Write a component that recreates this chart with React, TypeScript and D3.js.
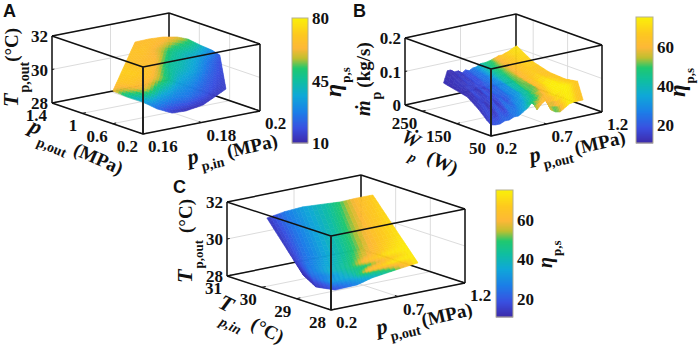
import React from "react";
import * as d3 from "d3";

// ---------- colour map ----------
const cmapStops = ["#3d2aa8", "#3a50e0", "#1c7fe8", "#10a8d8", "#10bfa0", "#20c870", "#c0bf30", "#fdb838", "#fdc820", "#fbf00a"];
const cmapAt = [0, 0.12, 0.25, 0.38, 0.5, 0.6, 0.68, 0.76, 0.87, 1];

// ---------- Panel A ----------
const aRowT = [0, 0.2, 0.4, 0.6, 0.8, 1];
const aTopPin = [0.1744, 0.1792, 0.184, 0.1887, 0.1903, 0.1904, 0.1904, 0.19];
const aTopPout = [0.86, 0.86, 0.86, 0.86, 0.776, 0.62, 0.464, 0.344];
const aTopT = [31.98, 32, 31.95, 31.79, 31.74, 31.62, 31.56, 31.46];
const aBotPin = [0.1668, 0.1686, 0.1709, 0.1726, 0.1746, 0.1778, 0.1821, 0.1893];
const aBotPout = [0.86, 0.74, 0.62, 0.5, 0.38, 0.32, 0.26, 0.236];
const aBotT = [29.32, 29.08, 28.88, 28.6, 28.47, 28.58, 28.88, 29.62];
const aEta = [
  [65, 66, 66, 62, 55, 42, 30, 20],
  [68, 68, 60, 48, 42, 36, 25, 18],
  [68, 66, 65, 46, 42, 35, 24, 17],
  [72, 72, 66, 52, 36, 30, 22, 16],
  [70, 68, 60, 38, 28, 25, 20, 15],
  [62, 45, 35, 24, 14, 12, 13, 15],
];

// ---------- Panel B ----------
const bRowW = [188, 153, 119, 85, 63, 50];
const bRowPoutEnd = [0.86, 0.9, 0.94, 0.98, 1.02, 1.03];
const bColFrac = [0, 0.05, 0.1, 0.15, 0.2, 0.25, 0.3, 0.35, 0.4, 0.45, 0.5, 0.55, 0.6, 0.65, 0.7, 0.75, 0.8, 0.85, 0.9, 0.95, 1];
const bMdot = [
  [0.107, 0.141, 0.141, 0.133, 0.134, 0.125, 0.132, 0.127, 0.133, 0.134, 0.141, 0.141, 0.142, 0.145, 0.149, 0.153, 0.153, 0.157, 0.161, 0.167, 0.171],
  [0.099, 0.118, 0.122, 0.112, 0.12, 0.108, 0.116, 0.11, 0.12, 0.118, 0.124, 0.124, 0.126, 0.128, 0.126, 0.13, 0.128, 0.132, 0.13, 0.134, 0.133],
  [0.091, 0.1, 0.09, 0.104, 0.094, 0.102, 0.09, 0.104, 0.096, 0.106, 0.1, 0.11, 0.102, 0.112, 0.106, 0.112, 0.108, 0.114, 0.11, 0.112, 0.112],
  [0.065, 0.082, 0.07, 0.086, 0.072, 0.088, 0.076, 0.09, 0.078, 0.094, 0.084, 0.092, 0.08, 0.098, 0.09, 0.1, 0.092, 0.104, 0.098, 0.102, 0.101],
  [0.043, 0.048, 0.058, 0.05, 0.064, 0.056, 0.072, 0.06, 0.078, 0.066, 0.084, 0.07, 0.088, 0.064, 0.072, 0.07, 0.08, 0.09, 0.094, 0.098, 0.1],
  [0.033, 0.03, 0.03, 0.036, 0.036, 0.042, 0.042, 0.051, 0.06, 0.075, 0.048, 0.063, 0.072, 0.039, 0.03, 0.027, 0.036, 0.045, 0.048, 0.048, 0.048],
];
const bEta = [
  [13, 12, 13, 14, 14, 16, 20, 22, 26, 32, 40, 44, 48, 50, 58, 64, 66, 68, 70, 72, 72],
  [12, 15, 13, 18, 14, 20, 18, 24, 26, 32, 42, 46, 50, 54, 58, 62, 64, 66, 68, 68, 68],
  [13, 13, 20, 12, 22, 14, 24, 22, 28, 30, 40, 44, 50, 54, 60, 64, 66, 68, 66, 64, 66],
  [13, 18, 12, 20, 13, 24, 18, 26, 28, 34, 40, 44, 50, 52, 62, 70, 74, 74, 72, 68, 66],
  [14, 18, 14, 22, 16, 26, 24, 30, 34, 40, 46, 50, 56, 60, 66, 72, 74, 75, 74, 68, 66],
  [16, 20, 22, 22, 24, 24, 28, 32, 40, 48, 56, 62, 66, 56, 48, 50, 66, 74, 72, 66, 64],
];

// ---------- Panel C ----------
const cRowT = [0, 0.3, 0.6, 0.72, 0.78, 0.84, 0.9, 0.95, 1];
const cTopPout = [0.2, 0.334, 0.469, 0.633, 0.745, 0.872, 0.991];
const cTopTin = [29.85, 29.85, 29.85, 29.85, 29.85, 29.85, 29.85];
const cTopT = [31.84, 31.99, 32.05, 31.97, 31.91, 31.94, 31.93];
const cBotPout = [0.224, 0.243, 0.323, 0.456, 0.545, 0.708, 0.849];
const cBotTin = [28.9, 28.6, 28.36, 28.24, 28.15, 28.09, 28];
const cBotT = [29.31, 28.81, 28.68, 28.83, 29.14, 29.37, 29.6];
const cEta = [
  [14, 26, 34, 42, 50, 62, 68],
  [14, 24, 33, 43, 52, 64, 70],
  [14, 24, 33, 44, 53, 66, 72],
  [14, 25, 35, 46, 56, 68, 74],
  [14, 25, 36, 46, 62, 72, 74],
  [13, 24, 30, 44, 48, 66, 74],
  [13, 20, 32, 38, 62, 72, 74],
  [13, 16, 24, 32, 44, 58, 74],
  [13, 14, 18, 28, 36, 50, 74],
];

type Node = { x: number; y: number; z: number; eta: number };
type Pt = [number, number];

const fontSerif = "'Liberation Serif', 'Times New Roman', serif";

function ruledMesh(rowT: number[], topX: number[], topY: number[], topZ: number[], botX: number[], botY: number[], botZ: number[], eta: number[][]): Node[][] {
  return rowT.map((t, r) =>
    topX.map((_, c) => ({
      x: d3.interpolateNumber(topX[c], botX[c])(t),
      y: d3.interpolateNumber(topY[c], botY[c])(t),
      z: d3.interpolateNumber(topZ[c], botZ[c])(t),
      eta: eta[r][c],
    }))
  );
}

const panelAMesh = ruledMesh(aRowT, aTopPin, aTopPout, aTopT, aBotPin, aBotPout, aBotT, aEta);
const panelCMesh = ruledMesh(cRowT, cTopPout, cTopTin, cTopT, cBotPout, cBotTin, cBotT, cEta);
const panelBMesh: Node[][] = bRowW.map((w, r) =>
  bColFrac.map((f, c) => ({
    x: d3.scaleLinear().domain([0, 1]).range([0.2, bRowPoutEnd[r]])(f),
    y: w,
    z: bMdot[r][c],
    eta: bEta[r][c],
  }))
);

type PanelCfg = {
  origin: Pt; ex: Pt; ey: Pt; ez: number;
  xDom: [number, number]; yDom: [number, number]; zDom: [number, number];
  xTicks: number[]; yTicks: number[]; zTicks: number[];
  mesh: Node[][];
  sub: number;
  etaDom: [number, number];
  bar: { x: number; w: number; top: number; bottom: number; ticks: number[] };
};

function makeColor(dom: [number, number]) {
  return d3
    .scaleLinear<string>()
    .domain(cmapAt.map((t) => dom[0] + t * (dom[1] - dom[0])))
    .range(cmapStops)
    .interpolate(d3.interpolateRgb)
    .clamp(true);
}

function Panel({ cfg, id }: { cfg: PanelCfg; id: string }) {
  const sx = d3.scaleLinear().domain(cfg.xDom).range([0, 1]);
  const sy = d3.scaleLinear().domain(cfg.yDom).range([0, 1]);
  const sz = d3.scaleLinear().domain(cfg.zDom).range([0, 1]);
  const proj = (a: number, b: number, c: number): Pt => [
    cfg.origin[0] + a * cfg.ex[0] + b * cfg.ey[0],
    cfg.origin[1] + a * cfg.ex[1] + b * cfg.ey[1] - c * cfg.ez,
  ];
  const pn = (n: { x: number; y: number; z: number }): Pt => proj(sx(n.x), sy(n.y), sz(n.z));
  const color = makeColor(cfg.etaDom);
  const line = d3.line();
  const SUB = cfg.sub;

  const cells: { d: string; f: string }[] = [];
  const m = cfg.mesh;
  for (let r = 0; r < m.length - 1; r++) {
    for (let c = 0; c < m[0].length - 1; c++) {
      const n00 = m[r][c], n01 = m[r][c + 1], n10 = m[r + 1][c], n11 = m[r + 1][c + 1];
      const bil = (u: number, v: number) => {
        const mix = (k: "x" | "y" | "z" | "eta") =>
          (1 - v) * ((1 - u) * n00[k] + u * n01[k]) + v * ((1 - u) * n10[k] + u * n11[k]);
        return { x: mix("x"), y: mix("y"), z: mix("z"), eta: mix("eta") };
      };
      for (let i = 0; i < SUB; i++) {
        for (let j = 0; j < SUB; j++) {
          const u0 = j / SUB, u1 = (j + 1) / SUB, v0 = i / SUB, v1 = (i + 1) / SUB;
          const pts = [bil(u0, v0), bil(u1, v0), bil(u1, v1), bil(u0, v1)].map(pn);
          const cen = bil((u0 + u1) / 2, (v0 + v1) / 2);
          cells.push({ d: line(pts)! + "Z", f: color(cen.eta) });
        }
      }
    }
  }

  const seg = (p: Pt, q: Pt, key: string, stroke: string, w: number) => (
    <line key={key} x1={p[0]} y1={p[1]} x2={q[0]} y2={q[1]} stroke={stroke} strokeWidth={w} />
  );
  const grid: React.ReactNode[] = [];
  const gc = "#dcdcdc";
  cfg.xTicks.forEach((t, i) => {
    const a = sx(t);
    grid.push(seg(proj(a, 0, 0), proj(a, 1, 0), `gx${i}`, gc, 1), seg(proj(a, 1, 0), proj(a, 1, 1), `gxw${i}`, gc, 1));
  });
  cfg.yTicks.forEach((t, i) => {
    const b = sy(t);
    grid.push(seg(proj(0, b, 0), proj(1, b, 0), `gy${i}`, gc, 1), seg(proj(1, b, 0), proj(1, b, 1), `gyw${i}`, gc, 1));
  });
  cfg.zTicks.forEach((t, i) => {
    const c = sz(t);
    grid.push(seg(proj(0, 1, c), proj(1, 1, c), `gz${i}`, gc, 1), seg(proj(1, 1, c), proj(1, 0, c), `gzw${i}`, gc, 1));
  });

  const bk = "#111";
  const behind = [
    seg(proj(0, 1, 0), proj(1, 1, 0), "b1", bk, 1.5),
    seg(proj(1, 1, 0), proj(1, 0, 0), "b2", bk, 1.5),
    seg(proj(1, 1, 0), proj(1, 1, 1), "b3", bk, 1.5),
  ];
  const front = [
    seg(proj(0, 1, 1), proj(1, 1, 1), "f1", bk, 1.5),
    seg(proj(1, 1, 1), proj(1, 0, 1), "f2", bk, 1.5),
    seg(proj(1, 0, 1), proj(0, 0, 1), "f3", bk, 1.5),
    seg(proj(0, 0, 1), proj(0, 1, 1), "f4", bk, 1.5),
    seg(proj(0, 1, 0), proj(0, 1, 1), "f5", bk, 1.5),
    seg(proj(1, 0, 0), proj(1, 0, 1), "f6", bk, 1.5),
    seg(proj(0, 0, 0), proj(0, 0, 1), "f7", "#222", 2),
    seg(proj(0, 0, 0), proj(1, 0, 0), "f8", bk, 1.5),
    seg(proj(0, 0, 0), proj(0, 1, 0), "f9", bk, 1.5),
  ];
  const tickMarks: React.ReactNode[] = [];
  cfg.xTicks.forEach((t, i) => tickMarks.push(seg(proj(sx(t), 0, 0), proj(sx(t), 0.03, 0), `tx${i}`, bk, 1)));
  cfg.yTicks.forEach((t, i) => tickMarks.push(seg(proj(0, sy(t), 0), proj(0.03, sy(t), 0), `ty${i}`, bk, 1)));
  cfg.zTicks.forEach((t, i) => tickMarks.push(seg(proj(0, 1, sz(t)), proj(0.02, 1, sz(t)), `tz${i}`, bk, 1)));

  const tickText = { fontFamily: fontSerif, fontWeight: 700, fontSize: 17, fill: "#111" } as const;
  const barScale = d3.scaleLinear().domain(cfg.etaDom).range([cfg.bar.bottom, cfg.bar.top]);
  const barSteps = d3.range(cfg.bar.bottom, cfg.bar.top, -1);

  return (
    <g id={id}>
      {grid}
      {behind}
      {cells.map((s, i) => (
        <path key={i} d={s.d} fill={s.f} stroke={s.f} strokeWidth={0.6} />
      ))}
      {front}
      {tickMarks}
      {cfg.xTicks.map((t, i) => {
        const p = proj(sx(t), 0, 0);
        return <text key={i} x={p[0] + 5} y={p[1] + 18} textAnchor="start" {...tickText}>{String(t)}</text>;
      })}
      {cfg.yTicks.map((t, i) => {
        const p = proj(0, sy(t), 0);
        return <text key={i} x={p[0] - 5} y={p[1] + 18} textAnchor="end" {...tickText}>{String(t)}</text>;
      })}
      {cfg.zTicks.map((t, i) => {
        const p = proj(0, 1, sz(t));
        return <text key={i} x={p[0] - 4} y={p[1] + 6} textAnchor="end" {...tickText}>{String(t)}</text>;
      })}
      {barSteps.map((y) => (
        <rect key={y} x={cfg.bar.x} y={y - 1} width={cfg.bar.w} height={1.4} fill={color(barScale.invert(y - 0.5))} />
      ))}
      <rect x={cfg.bar.x} y={cfg.bar.top} width={cfg.bar.w} height={cfg.bar.bottom - cfg.bar.top} fill="none" stroke="#b5b090" strokeWidth={1} />
      {cfg.bar.ticks.map((t, i) => (
        <text key={i} x={cfg.bar.x + cfg.bar.w + 4} y={barScale(t) + 6} {...tickText}>{t}</text>
      ))}
    </g>
  );
}

const cfgA: PanelCfg = {
  origin: [143, 134], ex: [117, -23], ey: [-91, -31], ez: 67,
  xDom: [0.16, 0.2], yDom: [0.2, 1.4], zDom: [28, 32],
  xTicks: [0.16, 0.18, 0.2], yTicks: [0.2, 0.6, 1, 1.4], zTicks: [28, 30, 32],
  mesh: panelAMesh, sub: 5, etaDom: [10, 80],
  bar: { x: 292, w: 16, top: 18, bottom: 143, ticks: [10, 45, 80] },
};
const cfgB: PanelCfg = {
  origin: [491, 136], ex: [111, -24], ey: [-86, -31], ez: 67,
  xDom: [0.2, 1.2], yDom: [50, 300], zDom: [0, 0.2],
  xTicks: [0.2, 0.7, 1.2], yTicks: [50, 150, 250], zTicks: [0, 0.1, 0.2],
  mesh: panelBMesh, sub: 3, etaDom: [11, 75],
  bar: { x: 636, w: 17, top: 17, bottom: 143, ticks: [20, 40, 60] },
};
const cfgC: PanelCfg = {
  origin: [331, 310], ex: [134, -27], ey: [-104, -34], ez: 74,
  xDom: [0.2, 1.2], yDom: [28, 31], zDom: [28, 32],
  xTicks: [0.2, 0.7, 1.2], yTicks: [28, 29, 30, 31], zTicks: [28, 30, 32],
  mesh: panelCMesh, sub: 5, etaDom: [11, 75],
  bar: { x: 496, w: 17, top: 190, bottom: 317, ticks: [20, 40, 60] },
};

function Label({ x, y, rot, main, sub, unit, mainSize = 22, subSize = 14, unitSize = 19, subDx = 1, subDy = 8, unitDy = -7, gap = 4, subItalic = false }: {
  x: number; y: number; rot: number; main: string; sub: string; unit?: string;
  mainSize?: number; subSize?: number; unitSize?: number; subDx?: number; subDy?: number; unitDy?: number; gap?: number; subItalic?: boolean;
}) {
  return (
    <text transform={`translate(${x},${y}) rotate(${rot})`} fontFamily={fontSerif} fontWeight={700} fill="#111">
      <tspan fontStyle="italic" fontSize={mainSize}>{main}</tspan>
      <tspan fontSize={subSize} dy={subDy} dx={subDx} fontStyle={subItalic ? "italic" : "normal"}>{sub}</tspan>
      {unit ? <tspan fontSize={unitSize} dy={unitDy} dx={gap}>{unit}</tspan> : null}
    </text>
  );
}

const panelLetter = { fontFamily: "'Liberation Sans', Arial, sans-serif", fontWeight: 700, fontSize: 18, fill: "#111" } as const;

export default function App() {
  return (
    <svg width={699} height={351} viewBox="0 0 699 351" style={{ position: "absolute", left: 0, top: 0, background: "#fff" }}>
      <Panel cfg={cfgA} id="A" />
      <Panel cfg={cfgB} id="B" />
      <Panel cfg={cfgC} id="C" />

      <text x={3} y={17} {...panelLetter}>A</text>
      <text x={353} y={17} {...panelLetter}>B</text>
      <text x={173} y={193} {...panelLetter}>C</text>

      {/* A labels */}
      <Label x={189} y={165} rot={-13} main="p" sub="p,in" unit="(MPa)" subDy={9} unitDy={-7} gap={5} />
      <Label x={28} y={131} rot={24} main="p" sub="p,out" subDx={2} subDy={10} unitDy={-7} gap={6} unit="(MPa)" />
      <Label x={18} y={107} rot={-90} main="T" sub="p,out" unit="(°C)" subDy={11} unitDy={-11} gap={0} />
      <Label x={341} y={97} rot={-90} main="η" sub="p,s" subDy={9} mainSize={24} subSize={13} />

      {/* B labels */}
      <Label x={531} y={163} rot={-13} main="p" sub="p,out" unit="(MPa)" subDy={9} unitDy={-7} gap={3} />
      <Label x={400} y={141} rot={25} main="Ẇ" sub="p" unit="(W)" subDx={-3} subDy={14} unitDy={-6} gap={10} subItalic mainSize={20} />
      <Label x={370} y={116} rot={-90} main="ṁ" sub="p" unit="(kg/s)" mainSize={20} subDy={11} unitDy={-11} gap={4} />
      <Label x={685} y={97} rot={-90} main="η" sub="p,s" subDy={9} mainSize={23} subSize={13} />

      {/* C labels */}
      <Label x={378} y={335} rot={-13} main="p" sub="p,out" unit="(MPa)" subDy={9} unitDy={-7} gap={3} />
      <Label x={217} y={307} rot={27} main="T" sub="p,in" unit="(°C)" subDx={-4} subDy={15} unitDy={-11} gap={7} subItalic />
      <Label x={192} y={283} rot={-90} main="T" sub="p,out" unit="(°C)" subSize={13} subDy={11} unitDy={-11} gap={7} />
      <Label x={552} y={268} rot={-90} main="η" sub="p,s" subDy={9} mainSize={20} subSize={13} />
    </svg>
  );
}
